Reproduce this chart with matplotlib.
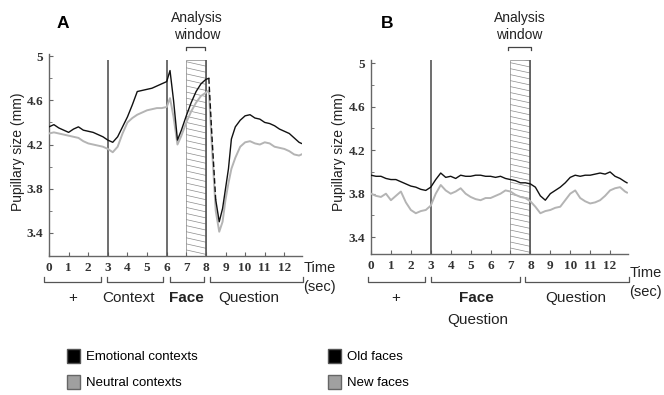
import numpy as np
import matplotlib
matplotlib.use("Agg")
import matplotlib.pyplot as plt
from matplotlib.patches import Rectangle, Patch
from matplotlib.lines import Line2D
from matplotlib.transforms import blended_transform_factory

plt.rcParams['font.family'] = ['Liberation Sans', 'DejaVu Sans']

# ---- data ----
t_a = [0, 0.25, 0.5, 0.75, 1, 1.25, 1.5, 1.75, 2, 2.25, 2.5, 2.75, 3, 3.25, 3.5,
       3.75, 4, 4.25, 4.5, 4.75, 5, 5.25, 5.5, 5.75, 6, 6.17, 6.35, 6.55, 6.75,
       7, 7.25, 7.5, 7.75, 8, 8.15, 8.3, 8.5, 8.68, 8.85, 9, 9.15, 9.3, 9.5,
       9.75, 10, 10.25, 10.5, 10.75, 11, 11.25, 11.5, 11.75, 12, 12.25, 12.5,
       12.75, 12.87]
emotional = [4.36, 4.38, 4.35, 4.33, 4.31, 4.34, 4.36, 4.33, 4.32, 4.31, 4.29,
             4.27, 4.24, 4.22, 4.27, 4.36, 4.45, 4.56, 4.68, 4.69, 4.70, 4.71,
             4.73, 4.75, 4.77, 4.87, 4.60, 4.24, 4.33, 4.46, 4.58, 4.68, 4.75,
             4.79, 4.80, 4.30, 3.70, 3.50, 3.62, 3.80, 3.98, 4.25, 4.36, 4.42,
             4.46, 4.47, 4.44, 4.43, 4.40, 4.39, 4.37, 4.34, 4.32, 4.30, 4.26,
             4.22, 4.21]
neutral = [4.30, 4.31, 4.30, 4.29, 4.28, 4.27, 4.26, 4.23, 4.21, 4.20, 4.19,
           4.18, 4.16, 4.13, 4.18, 4.30, 4.40, 4.44, 4.47, 4.49, 4.51, 4.52,
           4.53, 4.53, 4.54, 4.62, 4.45, 4.20, 4.28, 4.40, 4.50, 4.58, 4.64,
           4.67, 4.69, 4.20, 3.60, 3.41, 3.50, 3.70, 3.85, 3.98, 4.08, 4.18,
           4.22, 4.23, 4.21, 4.20, 4.22, 4.21, 4.18, 4.17, 4.16, 4.14, 4.11,
           4.10, 4.11]

t_b = [0, 0.25, 0.5, 0.75, 1, 1.25, 1.5, 1.75, 2, 2.25, 2.5, 2.75, 3, 3.25,
       3.5, 3.75, 4, 4.25, 4.5, 4.75, 5, 5.25, 5.5, 5.75, 6, 6.25, 6.5, 6.75,
       7, 7.25, 7.5, 7.75, 8, 8.25, 8.5, 8.75, 9, 9.25, 9.5, 9.75, 10, 10.25,
       10.5, 10.75, 11, 11.25, 11.5, 11.75, 12, 12.25, 12.5, 12.75, 12.85]
old_faces = [3.97, 3.96, 3.96, 3.94, 3.93, 3.93, 3.91, 3.89, 3.87, 3.86, 3.84,
             3.83, 3.86, 3.93, 3.99, 3.95, 3.96, 3.94, 3.97, 3.96, 3.96, 3.97,
             3.97, 3.96, 3.96, 3.95, 3.96, 3.94, 3.93, 3.92, 3.90, 3.90, 3.89,
             3.86, 3.78, 3.74, 3.80, 3.83, 3.86, 3.90, 3.95, 3.97, 3.96, 3.97,
             3.97, 3.98, 3.99, 3.98, 4.00, 3.96, 3.94, 3.91, 3.90]
new_faces = [3.80, 3.78, 3.77, 3.80, 3.74, 3.78, 3.82, 3.72, 3.65, 3.62, 3.64,
             3.65, 3.69, 3.80, 3.88, 3.83, 3.80, 3.82, 3.85, 3.80, 3.77, 3.75,
             3.74, 3.76, 3.76, 3.78, 3.80, 3.83, 3.82, 3.79, 3.77, 3.76, 3.73,
             3.68, 3.62, 3.64, 3.65, 3.67, 3.68, 3.74, 3.80, 3.83, 3.76, 3.73,
             3.71, 3.72, 3.74, 3.78, 3.83, 3.85, 3.86, 3.82, 3.81]

x_ticks = list(range(13))
y_major = [3.4, 3.8, 4.2, 4.6, 5.0]
y_major_labels = ['3.4', '3.8', '4.2', '4.6', '5']
y_minor = [3.6, 4.0, 4.4, 4.8]

W, H = 664, 395
DARK = '#111111'
LIGHT = '#b4b4b4'
AXCOL = '#666666'

fig = plt.figure(figsize=(6.64, 3.95), dpi=100)
ax_a = fig.add_axes([49 / W, 1 - 256 / H, 253 / W, 202 / H])
ax_b = fig.add_axes([371 / W, 1 - 254 / H, 257 / W, 194 / H])


def style_axes(ax, ylim):
    ax.set_xlim(0, 12.9)
    ax.set_ylim(*ylim)
    for s in ['top', 'right']:
        ax.spines[s].set_visible(False)
    for s in ['left', 'bottom']:
        ax.spines[s].set_color(AXCOL)
        ax.spines[s].set_linewidth(1.0)
    ax.set_xticks(x_ticks)
    ax.set_xticklabels([str(v) for v in x_ticks])
    ax.set_yticks(y_major)
    ax.set_yticklabels(y_major_labels)
    ax.set_yticks(y_minor, minor=True)
    ax.tick_params(direction='in', length=3, color=AXCOL, width=0.8,
                   labelsize=9.5, labelcolor='#333333', pad=4)
    ax.tick_params(which='minor', direction='in', length=2, color=AXCOL)
    for lab in ax.get_xticklabels() + ax.get_yticklabels():
        lab.set_family(['Liberation Serif', 'DejaVu Serif'])
        lab.set_fontweight('bold')


def window(ax, x0, x1, ylo, yhi, spacing, drop):
    rect = Rectangle((x0, ylo), x1 - x0, yhi - ylo, fill=False,
                     edgecolor='#999999', lw=0.6, zorder=1)
    ax.add_patch(rect)
    for y0 in np.arange(ylo, yhi + drop + spacing, spacing):
        ln, = ax.plot([x0, x1], [y0, y0 - drop], color='#8c8c8c', lw=0.5,
                      zorder=1)
        ln.set_clip_path(rect)
    ax.vlines(x1, ylo, yhi, color='#555555', lw=1.2, zorder=2)


def under_axis(ax, brackets, labels, time_y):
    tr = blended_transform_factory(ax.transData, fig.transFigure)
    yb, yt = 1 - 281.5 / H, 1 - 276.5 / H
    for x0, x1 in brackets:
        fig.add_artist(Line2D([x0, x0, x1, x1], [yt, yb, yb, yt], transform=tr,
                              color='#555555', lw=0.9))
    for x, y, txt, bold in labels:
        fig.text(x, 1 - y / H, txt, transform=tr, ha='center', va='center',
                 fontsize=11, fontweight='bold' if bold else 'normal',
                 color='#222222')
    fig.text(12.97, 1 - time_y / H, 'Time', transform=tr, ha='left',
             va='center', fontsize=10.5, color='#222222')
    fig.text(12.97, 1 - (time_y + 19) / H, '(sec)', transform=tr, ha='left',
             va='center', fontsize=10.5, color='#222222')


def window_label(ax, xc, x0, x1):
    tr = blended_transform_factory(ax.transData, fig.transFigure)
    fig.text(xc, 1 - 18 / H, 'Analysis', transform=tr, ha='center',
             va='center', fontsize=10, color='#222222')
    fig.text(xc, 1 - 35 / H, 'window', transform=tr, ha='center',
             va='center', fontsize=10, color='#222222')
    y1, y2 = 1 - 46.5 / H, 1 - 49.5 / H
    fig.add_artist(Line2D([x0, x0, x1, x1], [y2, y1, y1, y2], transform=tr,
                          color='#444444', lw=0.9))


# ---- panel A ----
style_axes(ax_a, (3.19, 5.02))
window(ax_a, 7.0, 8.0, 3.19, 4.97, 0.055, 0.04)
ax_a.vlines([3, 6], 3.19, 4.97, color='#555555', lw=1.2, zorder=2)
ax_a.plot(t_a, neutral, color=LIGHT, lw=1.4, zorder=3)
# the steep fall after the window is drawn dashed in the original
i0, i1 = t_a.index(8.15), t_a.index(8.5)
ax_a.plot(t_a[:i0 + 1], emotional[:i0 + 1], color=DARK, lw=1.0, zorder=4)
ax_a.plot(t_a[i0:i1 + 1], emotional[i0:i1 + 1], color=DARK, lw=1.0,
          ls=(0, (4, 2)), zorder=4)
ax_a.plot(t_a[i1:], emotional[i1:], color=DARK, lw=1.0, zorder=4)

# ---- panel B ----
style_axes(ax_b, (3.245, 5.03))
window(ax_b, 7.0, 8.0, 3.245, 5.03, 0.055, 0.04)
ax_b.vlines([3], 3.245, 5.03, color='#555555', lw=1.2, zorder=2)
ax_b.plot(t_b, new_faces, color=LIGHT, lw=1.4, zorder=3)
ax_b.plot(t_b, old_faces, color=DARK, lw=1.0, zorder=4)

for ax, xpix in [(ax_a, 18), (ax_b, 339)]:
    fig.text(xpix / W, 1 - 152 / H, 'Pupillary size (mm)', rotation=90,
             ha='center', va='center', fontsize=10, color='#222222')

fig.text(63 / W, 1 - 23 / H, 'A', fontsize=12.5, fontweight='bold',
         ha='center', va='center')
fig.text(387 / W, 1 - 23 / H, 'B', fontsize=12.5, fontweight='bold',
         ha='center', va='center')

window_label(ax_a, 7.55, 7.0, 7.95)
window_label(ax_b, 7.45, 6.9, 8.05)

under_axis(ax_a,
           [(-0.26, 2.65), (2.96, 5.83), (6.15, 7.88), (8.19, 12.96)],
           [(1.2, 298, '+', False), (4.06, 298, 'Context', False),
            (7.0, 298, 'Face', True), (10.2, 298, 'Question', False)],
           268)
under_axis(ax_b,
           [(-0.13, 2.69), (3.0, 7.5), (7.75, 12.96)],
           [(1.22, 298, '+', False), (5.3, 298, 'Face', True),
            (5.35, 320, 'Question', False), (10.3, 298, 'Question', False)],
           273)

# ---- legends ----
for labels, xpix in [(['Emotional contexts', 'Neutral contexts'], 67),
                     (['Old faces', 'New faces'], 328)]:
    handles = [Patch(facecolor='black', edgecolor='#555555', label=labels[0]),
               Patch(facecolor='#a0a0a0', edgecolor='#666666', label=labels[1])]
    fig.legend(handles=handles, loc='upper left',
               bbox_to_anchor=(xpix / W, 1 - 349 / H), frameon=False,
               fontsize=9.5, handlelength=1.0, handleheight=1.25,
               handletextpad=0.45, labelspacing=0.85, borderpad=0,
               borderaxespad=0)

fig.savefig('out.png', dpi=100, facecolor='white')
